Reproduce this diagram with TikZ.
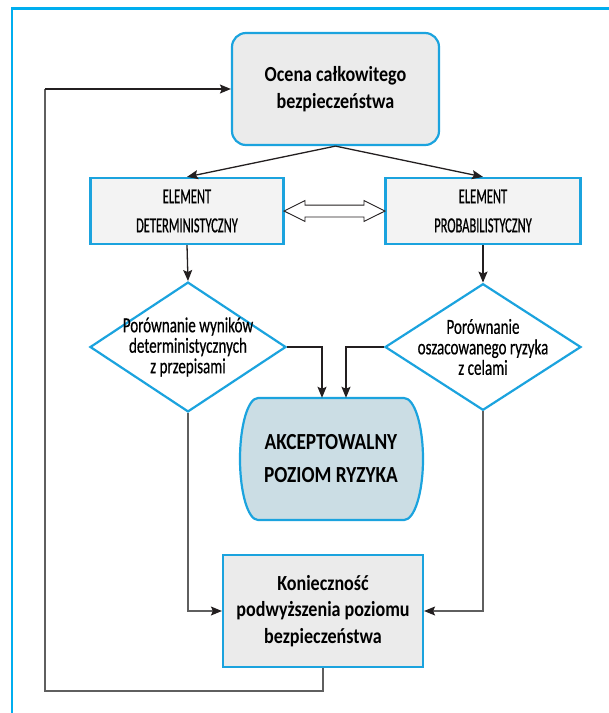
\documentclass[tikz,border=0pt]{standalone}
\usepackage{fontspec}
\setmainfont{Carlito}[FakeStretch=0.84]
\newfontfamily\capsfont{Carlito}[FakeStretch=0.58, FakeBold=0.6]
\newfontfamily\diamondfont{Carlito}[FakeStretch=0.70, FakeBold=0.5]
\usetikzlibrary{arrows.meta,shapes.geometric,shapes.arrows,calc}
\definecolor{framecyan}{RGB}{0,174,239}
\definecolor{boxcyan}{RGB}{27,163,222}
\definecolor{boxgray}{RGB}{235,235,235}
\definecolor{elemgray}{RGB}{243,243,243}
\definecolor{acceptblue}{RGB}{203,221,228}
\definecolor{arrowdark}{RGB}{35,31,32}
\definecolor{linegray}{RGB}{95,95,95}

\begin{document}
\begin{tikzpicture}[x=1pt, y=-1pt,
	box/.style={draw=boxcyan, line width=2.2pt, align=center, inner sep=0pt},
	boldtext/.style={font=\fontsize{21.5}{26.5}\selectfont\bfseries},
	plaintext/.style={font=\capsfont\fontsize{21.5}{29}\selectfont},
	decision/.style={box, diamond, fill=white, minimum width=196pt, minimum height=126pt, inner sep=-15pt, font=\diamondfont\fontsize{21.5}{20.5}\selectfont},
	flow/.style={draw=arrowdark, line width=1.3pt, -{Stealth[length=11pt, width=9pt, inset=2pt]}},
	graylink/.style={draw=linegray, line width=1.1pt, -{Stealth[length=11pt, width=9pt, inset=2pt, color=arrowdark]}}]
\useasboundingbox (0,0) rectangle (609,713);
\draw[framecyan, line width=2.4pt] (12,714) -- (12,8.5) -- (610,8.5);

\node[box, boldtext, fill=boxgray, rounded corners=14pt, minimum width=207pt, minimum height=112pt] (ocena) at (335.5,89) {Ocena całkowitego\\bezpieczeństwa};
\node[box, plaintext, fill=elemgray, minimum width=193pt, minimum height=66pt] (det) at (187,211) {ELEMENT\\DETERMINISTYCZNY};
\node[box, plaintext, fill=elemgray, minimum width=195pt, minimum height=66pt] (prob) at (483,211) {ELEMENT\\PROBABILISTYCZNY};
\node[decision] (pordet) at (188,347) {Porównanie wyników\\deterministycznych\\z przepisami};
\node[decision] (porprob) at (483,347) {Porównanie\\oszacowanego ryzyka\\z celami};
\filldraw[draw=boxcyan, fill=acceptblue, line width=2.2pt] (258,398) -- (404,398) arc[start angle=90, end angle=-90, x radius=19pt, y radius=61pt] -- (258,520) arc[start angle=270, end angle=90, x radius=18pt, y radius=61pt] -- cycle;
\node[align=center, inner sep=0pt, minimum width=183pt, minimum height=122pt, font=\fontsize{23}{33}\selectfont\bfseries] (accept) at (331,459) {AKCEPTOWALNY\\POZIOM RYZYKA};
\node[box, boldtext, fill=boxgray, minimum width=200pt, minimum height=112pt] (konie) at (323,611) {Konieczność\\podwyższenia poziomu\\bezpieczeństwa};
\node[double arrow, draw=arrowdark, fill=white, line width=0.9pt, inner sep=5.5pt, minimum height=101pt, minimum width=20pt, double arrow head extend=4.5pt, double arrow tip angle=53] (link) at ($(det.east)!0.5!(prob.west)$) {};
\coordinate (loop) at (45,691);
\coordinate (looptop) at (loop |- ocena.west);

\path (ocena.south) edge[flow] (det.north) edge[flow] (prob.north);
\path (det.south) edge[flow] (pordet.north);
\path (prob.south) edge[flow] (porprob.north);
\draw[flow] (pordet.east) -| ([xshift=-9pt]accept.north);
\draw[flow] (porprob.west) -| ([xshift=15pt]accept.north);
\draw[graylink] (pordet.south) |- (konie.west);
\draw[graylink] (porprob.south) |- (konie.east);
\draw[graylink, -] (konie.south) |- (loop) -- (looptop);
\draw[flow] (looptop) -- (ocena.west);
\end{tikzpicture}
\end{document}
